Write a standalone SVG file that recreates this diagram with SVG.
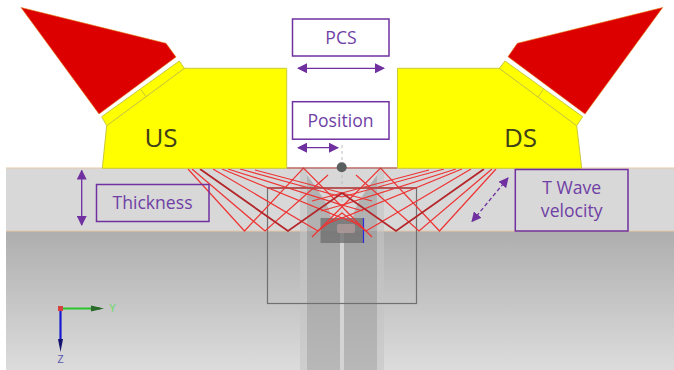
<svg xmlns="http://www.w3.org/2000/svg" width="674" height="370" viewBox="0 0 674 370">
<defs>
<linearGradient id="steel" x1="0" y1="0" x2="0" y2="1"><stop offset="0" stop-color="#aeaeae"/><stop offset="1" stop-color="#dcdcdc"/></linearGradient>
<linearGradient id="core" x1="0" y1="0" x2="0" y2="1"><stop offset="0" stop-color="#a2a2a2"/><stop offset="1" stop-color="#b8b8b8"/></linearGradient>
<linearGradient id="gy" gradientUnits="userSpaceOnUse" x1="60" y1="0" x2="104" y2="0"><stop offset="0" stop-color="#2cc42c"/><stop offset=".65" stop-color="#2cc42c"/><stop offset="1" stop-color="#1c5a1c"/></linearGradient>
<marker id="a" viewBox="0 0 10 10" refX="9" refY="5" markerWidth="10" markerHeight="10" markerUnits="userSpaceOnUse" orient="auto-start-reverse"><path d="M0 0L10 5L0 10Z" fill="#7030a0"/></marker>
</defs>
<style>
.lbl{fill:none;stroke:#7030a0;stroke-width:1.5}
.t{font-family:"Open Sans","Liberation Sans",sans-serif;fill:#6f3fa5;font-size:17.6px;text-anchor:middle}
.big{font-family:"Open Sans","Liberation Sans",sans-serif;fill:#40401a;font-size:26px;text-anchor:middle}
.dim{stroke:#7030a0;stroke-width:1.3;fill:none;marker-start:url(#a);marker-end:url(#a)}
.wedge{fill:#ffff00;stroke:#c9c93a;stroke-width:1}
.probe{fill:#dd0000;stroke:#e0801a;stroke-width:.6}
.ray{stroke:#ee3434;stroke-width:1.2;fill:none}
.rayd{stroke:#b3262a;stroke-width:1.8;fill:none}
</style>
<rect width="674" height="370" fill="#fff"/>
<g id="specimen">
<rect x="6" y="168" width="668" height="63" fill="#d8d8d8"/>
<rect x="6" y="231" width="668" height="139" fill="url(#steel)"/>
<path d="M6 168H674M6 231H674" stroke="#e8c8a8" stroke-width="1" fill="none"/>
<rect x="300" y="168" width="84" height="202" fill="#c4c4c4" opacity=".6"/>
<rect x="307" y="168" width="70" height="63" fill="#d8d8d8"/>
<path d="M307 175Q316 187 323 198T331 218V231H307ZM377 175Q368 187 361 198T353 218V231H377Z" fill="#b2b2b2"/>
<rect x="331" y="218" width="22" height="13" fill="#b2b2b2"/>
<rect x="307" y="231" width="70" height="139" fill="url(#core)"/>
<rect x="340" y="231" width="4" height="139" fill="#d4d4d4"/>
<rect x="267.500" y="188" width="149" height="115.500" fill="none" stroke="#707070" stroke-width="1.200"/>
<rect x="320.500" y="218" width="43" height="25" fill="#707070" opacity=".8"/>
<path d="M363.500 218V243" stroke="#2a2ae0" stroke-width="1.200" fill="none"/>
<rect x="337" y="224" width="18" height="9" rx="2" fill="#b9a0a0" opacity=".7"/>
<path d="M342 145V218" stroke="#bdbdbd" stroke-dasharray="3 3" fill="none"/>
</g>
<g id="connectors">
<path class="ray" d="M188 169L244.500 231L303.500 168L372 237M192 169L265 231L328 175"/>
<path class="ray" d="M496 169L439.500 231L380.500 168L312 237M492 169L419 231L356 175"/>
<path class="ray" d="M213 169L318 231L342 213L366 231L471 169"/>
<path class="ray" d="M222 169L342 218L462 169M228 169L342 205L456 169M240 169L342 197L444 169M255 170L342 193L429 170"/>
<path class="ray" d="M342 193L372 201M342 193L312 201M342 205L363 211M342 205L321 211M342 218L358 224M342 218L326 224"/>
<path class="rayd" d="M200 169L288 231L342 193L396 231L484 169"/>
<path d="M267 188H417" stroke="#c24040" stroke-width="1.500" fill="none"/>
<path d="M287 168H397" stroke="#a83a3a" stroke-width="1" fill="none"/>
</g>
<g id="us">
<path class="probe" d="M21 7.500L166 43.300L176 57L99 114Z"/>
<path class="wedge" d="M106.700 125.700L102.300 168.300H286.700V68.300H184.300Z"/>
<path class="wedge" d="M101.700 116.700L179.300 61L184.300 68.300L106.700 125.700Z"/>
<path d="M140.700 89.300L146 96.700" stroke="#c9c93a" fill="none"/>
<text class="big" x="161" y="147">US</text>
</g>
<g id="ds">
<path class="probe" d="M662.700 7.500L517.300 43.300L508 56.700L585 114Z"/>
<path class="wedge" d="M576.700 125.700L581.700 168.300H397.500V68.300H499.300Z"/>
<path class="wedge" d="M582.700 116.700L505 61L499.300 68.300L576.700 125.700Z"/>
<path d="M543.300 89.300L538.300 96.700" stroke="#c9c93a" fill="none"/>
<text class="big" x="520.500" y="147">DS</text>
</g>
<g id="probe-index">
<circle cx="341.700" cy="167.300" r="5" fill="#5a5f5f"/>
</g>
<g id="pcs"><rect class="lbl" x="292.500" y="19" width="96.500" height="37"/><text class="t" x="341" y="43.500">PCS</text><path class="dim" d="M298 68.300H384"/></g>
<g id="position"><rect class="lbl" x="292.500" y="101.700" width="96.500" height="37.500"/><text class="t" x="340.500" y="126.500">Position</text><path class="dim" d="M298 147.700H338"/></g>
<g id="thickness"><rect class="lbl" x="96.500" y="184.500" width="112.500" height="37"/><text class="t" x="152.500" y="209">Thickness</text><path class="dim" d="M81.700 170.500V225"/></g>
<g id="t-wave"><rect class="lbl" x="515.300" y="169.500" width="112.700" height="61.500"/><text class="t" x="571.700" y="193.500">T Wave</text><text class="t" x="571.700" y="217">velocity</text><path class="dim" stroke-dasharray="4 2.500" d="M508 178L472 221.500"/></g>
<g id="axes">
<path d="M60 308.500H100" stroke="url(#gy)" stroke-width="2.200" fill="none"/><path d="M91 305.500L104 308.500L91 311.500Z" fill="#2a6a2a"/>
<path d="M60.500 308V345" stroke="#1818d0" stroke-width="2.200" fill="none"/><path d="M58 339L60.500 352L63 339Z" fill="#141470"/>
<rect x="58" y="306" width="5" height="5" fill="#d84040"/>
<text x="112.500" y="312" font-family="'Liberation Sans',sans-serif" font-size="10" fill="#66dd66" text-anchor="middle">Y</text>
<text x="60.500" y="363" font-family="'Liberation Sans',sans-serif" font-size="10" fill="#5555aa" text-anchor="middle">Z</text>
</g>
</svg>
